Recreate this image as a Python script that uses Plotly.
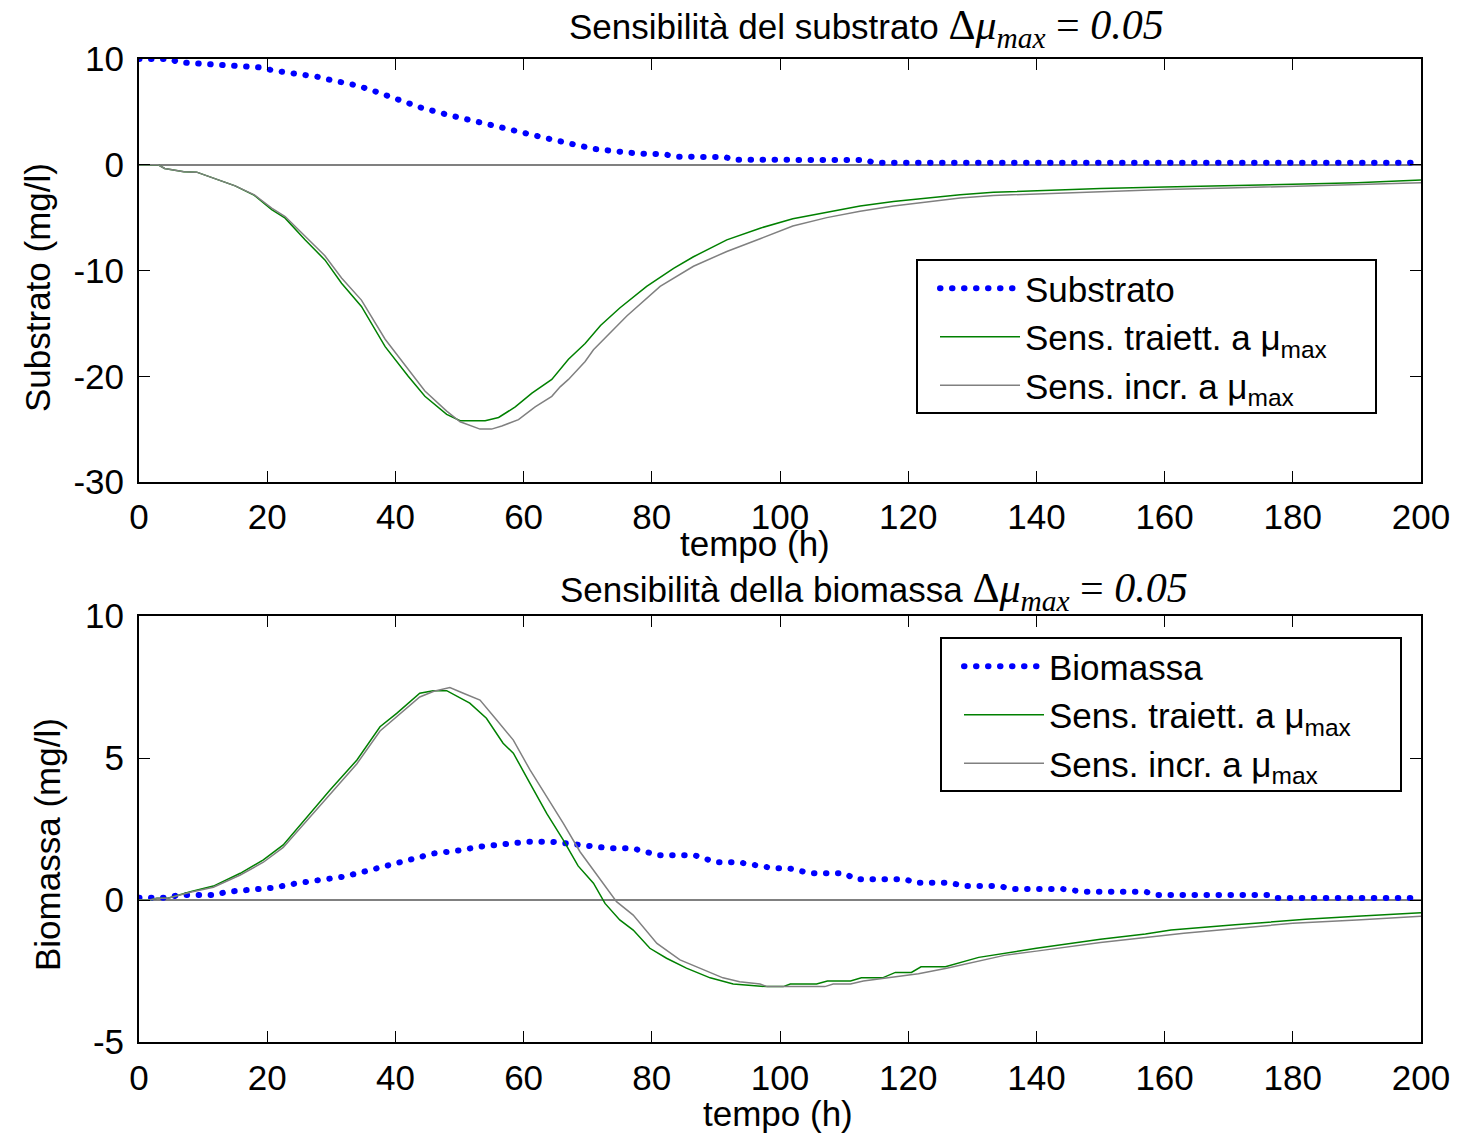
import plotly.graph_objects as go

# ---- data: sensitivity of substrate (top) ----
t_sub = [0, 5, 6, 12, 19, 21, 25, 28, 30, 34, 37, 40, 44, 48, 52, 56, 60, 64, 68, 71, 74, 78, 82,
         83.5, 91.5, 92.5, 113.5, 114.5, 200]
substrato = [10, 10, 9.7, 9.45, 9.2, 8.9, 8.6, 8.3, 8.0, 7.5, 6.9, 6.3, 5.4, 4.75, 4.15, 3.55, 3.0,
             2.45, 1.9, 1.5, 1.3, 1.05, 1.0, 0.76, 0.73, 0.47, 0.45, 0.2, 0.19]

t_sub_traj = [0, 3, 4, 7, 9, 11.3, 15, 18, 20.7, 22.8, 25.9, 29, 31.6, 34.7, 38.4, 42, 44.6, 48, 50.1,
              54, 56.1, 58.7, 61.3, 64.4, 67, 69.6, 72, 75, 79.2, 83.4, 86.5, 91.7, 96.9, 102, 107.3,
              112.5, 117.7, 122.9, 128.1, 133.3, 140, 150, 160, 170, 180, 190, 200]
sub_traj = [0, 0, -0.35, -0.66, -0.7, -1.17, -2.0, -2.9, -4.25, -5.05, -7.1, -9.0, -11.2, -13.4, -17.2,
            -20.0, -21.9, -23.6, -24.2, -24.2, -23.9, -22.9, -21.6, -20.3, -18.4, -16.9, -15.2, -13.55,
            -11.5, -9.8, -8.7, -7.1, -6.0, -5.1, -4.5, -3.9, -3.47, -3.15, -2.84, -2.6, -2.45, -2.25,
            -2.1, -2.0, -1.85, -1.7, -1.45]

t_sub_incr = [0, 3, 4, 7, 9, 11.3, 15, 18, 20.7, 22.8, 25.9, 29, 31.6, 34.7, 38.4, 42, 44.6, 48, 50.1,
              53.2, 55, 56.6, 59.2, 61.8, 64.4, 65.7, 67, 69.6, 70.9, 76.1, 81.3, 86.5, 91.7, 96.9, 102,
              107.3, 112.5, 117.7, 122.9, 128.1, 133.3, 140, 150, 160, 170, 180, 190, 200]
sub_incr = [0, 0, -0.35, -0.66, -0.7, -1.17, -2.0, -2.85, -4.1, -4.9, -6.8, -8.6, -10.7, -12.8, -16.5,
            -19.4, -21.4, -23.3, -24.3, -25.0, -25.0, -24.7, -24.1, -22.9, -21.9, -21.0, -20.3, -18.6,
            -17.5, -14.3, -11.5, -9.6, -8.2, -7.0, -5.8, -5.0, -4.4, -3.9, -3.5, -3.15, -2.9, -2.75,
            -2.55, -2.35, -2.2, -2.05, -1.9, -1.7]

# ---- data: sensitivity of biomass (bottom) ----
t_bio = [0, 4.6, 6.2, 11.9, 13.7, 17.3, 21, 24.6, 28.2, 31.9, 35.5, 38.9, 42.5, 46, 49.8, 53.2, 57.1,
         60.7, 64.4, 68, 73.5, 77, 81, 86.6, 90, 93.5, 99, 101.3, 104.8, 110, 111.8, 119.6, 121, 126.5,
         128.7, 134.3, 136, 144, 147.4, 157, 158.8, 176, 177, 200]
biomassa = [0.08, 0.08, 0.18, 0.18, 0.29, 0.35, 0.43, 0.59, 0.7, 0.82, 1.02, 1.23, 1.43, 1.64, 1.74,
            1.88, 1.97, 2.05, 2.05, 1.96, 1.82, 1.82, 1.58, 1.58, 1.33, 1.33, 1.12, 1.12, 0.94, 0.94,
            0.73, 0.73, 0.61, 0.61, 0.49, 0.49, 0.39, 0.39, 0.29, 0.29, 0.18, 0.18, 0.07, 0.07]

t_bio_traj = [0, 1.7, 2.8, 4.5, 8, 11.6, 15.8, 19.4, 22.5, 25.6, 29.8, 34, 37.6, 40.2, 43.8, 45.9, 48,
              51.6, 54.2, 56.8, 58.4, 61, 63.6, 66.2, 68.5, 70.9, 72.7, 75, 77.1, 79.7, 82.3, 85.4,
              89.1, 92.7, 97.9, 100.5, 101.6, 105.7, 107.4, 111, 112.7, 116, 118, 120.5, 122, 125.8,
              131, 140, 150, 157, 161, 171, 182, 190, 200]
bio_traj = [0, 0, 0.06, 0.06, 0.29, 0.49, 0.94, 1.41, 1.94, 2.76, 3.87, 4.93, 6.1, 6.57, 7.28, 7.37,
            7.37, 6.93, 6.4, 5.52, 5.17, 4.11, 3.05, 2.11, 1.2, 0.59, -0.12, -0.7, -1.06, -1.7, -2.05,
            -2.4, -2.74, -2.96, -3.05, -3.05, -2.96, -2.96, -2.85, -2.85, -2.74, -2.74, -2.55, -2.55,
            -2.35, -2.35, -2.02, -1.7, -1.38, -1.2, -1.06, -0.87, -0.68, -0.57, -0.45]

t_bio_incr = [0, 1.7, 2.8, 4.5, 8, 11.6, 15.8, 19.4, 22.5, 25.6, 29.8, 34, 37.6, 40.2, 43.8, 46, 48.5,
              50.6, 53.2, 55.8, 58.4, 61, 63.6, 66.2, 68.8, 71.4, 74.5, 77.1, 80.8, 84.4, 88, 91.1,
              93.7, 96.9, 98, 107, 108.3, 111, 113, 118, 121.6, 126, 131, 135, 140, 150, 163, 171,
              180, 190, 200]
bio_incr = [0, 0, 0.06, 0.06, 0.27, 0.45, 0.88, 1.33, 1.85, 2.65, 3.75, 4.8, 5.95, 6.45, 7.15, 7.35,
            7.48, 7.28, 7.04, 6.34, 5.63, 4.58, 3.64, 2.7, 1.7, 0.9, -0.06, -0.53, -1.53, -2.11, -2.46,
            -2.74, -2.88, -2.96, -3.05, -3.05, -2.96, -2.96, -2.85, -2.7, -2.6, -2.4, -2.15, -1.95,
            -1.8, -1.5, -1.17, -1.0, -0.82, -0.7, -0.57]

x_ticks = [0, 20, 40, 60, 80, 100, 120, 140, 160, 180, 200]
y_ticks_sub = [10, 0, -10, -20, -30]
y_ticks_bio = [10, 5, 0, -5]

W, H = 1468, 1134
SANS = "Liberation Sans, Arial, sans-serif"
BLUE, GREEN, GRAY = "#0000ff", "#008000", "#808080"
DOTS = "0.5px,11.5px"
FS = 35

def fx(px):
    return px / W

def fy(py):
    return 1 - py / H

fig = go.Figure()

def add_set(t_a, y_a, name_a, t_b, y_b, t_c, y_c, xa, ya, leg):
    fig.add_trace(go.Scatter(x=t_a, y=y_a, mode="lines", name=name_a, xaxis=xa, yaxis=ya, legend=leg,
                             line=dict(color=BLUE, width=6, dash=DOTS)))
    fig.add_trace(go.Scatter(x=t_b, y=y_b, mode="lines", name="Sens. traiett. a μ<sub>max</sub>",
                             xaxis=xa, yaxis=ya, legend=leg, line=dict(color=GREEN, width=1.5)))
    fig.add_trace(go.Scatter(x=t_c, y=y_c, mode="lines", name="Sens. incr. a μ<sub>max</sub>",
                             xaxis=xa, yaxis=ya, legend=leg, line=dict(color=GRAY, width=1.5)))

add_set(t_sub, substrato, "Substrato", t_sub_traj, sub_traj, t_sub_incr, sub_incr, "x", "y", "legend")
add_set(t_bio, biomassa, "Biomassa", t_bio_traj, bio_traj, t_bio_incr, bio_incr, "x2", "y2", "legend2")

axis_common = dict(
    showline=True, linecolor="black", linewidth=2, mirror="ticks",
    ticks="inside", ticklen=11, tickwidth=1, tickcolor="black",
    showgrid=False, tickfont=dict(family=SANS, size=FS, color="black"), automargin=False,
)
xdom = [fx(139), fx(1421)]
fig.update_layout(
    xaxis=dict(domain=xdom, anchor="y", range=[0, 200], tickvals=x_ticks,
               ticktext=[str(v) for v in x_ticks], zeroline=False, ticklabelstandoff=3, **axis_common),
    yaxis=dict(domain=[fy(482), fy(59)], anchor="x", range=[-30, 10], tickvals=y_ticks_sub,
               ticktext=[str(v) for v in y_ticks_sub], zeroline=True, zerolinecolor=GRAY,
               zerolinewidth=1.5, ticklabelstandoff=6, **axis_common),
    xaxis2=dict(domain=xdom, anchor="y2", range=[0, 200], tickvals=x_ticks,
                ticktext=[str(v) for v in x_ticks], zeroline=False, ticklabelstandoff=4, **axis_common),
    yaxis2=dict(domain=[fy(1042), fy(616)], anchor="x2", range=[-5, 10], tickvals=y_ticks_bio,
                ticktext=[str(v) for v in y_ticks_bio], zeroline=True, zerolinecolor=GRAY,
                zerolinewidth=1.5, ticklabelstandoff=6, **axis_common),
)

legend_common = dict(
    xanchor="left", yanchor="top", bgcolor="rgba(0,0,0,0)", borderwidth=0,
    font=dict(family=SANS, size=FS, color="black"), itemwidth=80, tracegroupgap=0,
)
fig.update_layout(
    legend=dict(x=fx(935), y=fy(259), **legend_common),
    legend2=dict(x=fx(959), y=fy(637), **legend_common),
)

# legend frames
for (x0, y0, x1, y1) in [(917, 260, 1376, 413), (941, 638, 1401, 791)]:
    fig.add_shape(type="rect", xref="paper", yref="paper", x0=fx(x0), x1=fx(x1), y0=fy(y1), y1=fy(y0),
                  line=dict(color="black", width=2), fillcolor="white", layer="above")

math = ("<span style='font-family:Liberation Serif;font-size:42px'>Δ<i>μ</i><sub><i>max</i></sub>"
        " = <i>0.05</i></span>")
annotations = [
    dict(x=fx(866), y=fy(28), text="Sensibilità del substrato " + math),
    dict(x=fx(874), y=fy(591), text="Sensibilità della biomassa " + math),
    dict(x=fx(755), y=fy(543), text="tempo (h)"),
    dict(x=fx(778), y=fy(1113), text="tempo (h)"),
    dict(x=fx(37), y=fy(288), text="Substrato (mg/l)", textangle=-90),
    dict(x=fx(47), y=fy(845), text="Biomassa (mg/l)", textangle=-90),
]
for a in annotations:
    fig.add_annotation(xref="paper", yref="paper", showarrow=False, xanchor="center", yanchor="middle",
                       font=dict(family=SANS, size=FS, color="black"), **a)

fig.update_layout(
    width=W, height=H, margin=dict(l=0, r=0, t=0, b=0),
    paper_bgcolor="white", plot_bgcolor="white", showlegend=True,
)

# round line caps turn the short dashes into round dots
post = """
var gd = document.getElementById('{plot_id}');
function roundDots() {
  gd.querySelectorAll('path').forEach(function (p) {
    var d = p.style.strokeDasharray || '';
    if (d.indexOf('0.5px') === 0) { p.style.strokeLinecap = 'round'; }
  });
}
roundDots();
gd.on('plotly_afterplot', roundDots);
"""
fig.write_html("out.html", post_script=post)
